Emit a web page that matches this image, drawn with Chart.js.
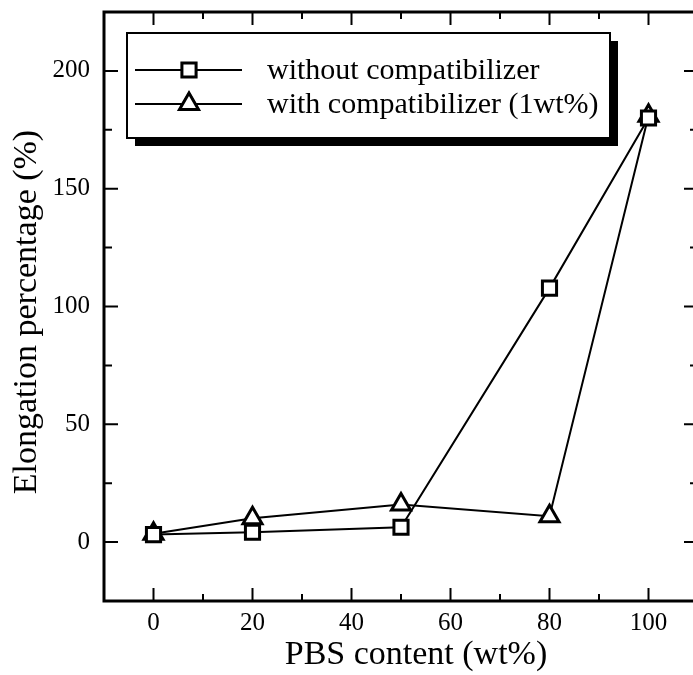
<!DOCTYPE html>
<html>
<head>
<meta charset="utf-8">
<script src="https://cdn.jsdelivr.net/npm/chart.js@4.4.0/dist/chart.umd.min.js"></script>
<style>
  html, body { margin: 0; padding: 0; background: #fff; overflow: hidden; }
</style>
</head>
<body>
<canvas id="elongChart" width="700" height="675"></canvas>
<script>
// data
var pbsContent = [0, 20, 50, 80, 100];
var withoutCompat = [3.2, 4.2, 6.3, 107.8, 180];
var withCompat = [3.5, 10.1, 16.0, 11.0, 181];
var seriesLabels = ['without compatibilizer', 'with compatibilizer (1wt%)'];
var xTitle = 'PBS content (wt%)';
var yTitle = 'Elongation percentage (%)';

var xMajor = [0, 20, 40, 60, 80, 100];
var xMinor = [10, 30, 50, 70, 90];
var yMajor = [0, 50, 100, 150, 200];
var yMinor = [25, 75, 125, 175];

var FONT = "'Liberation Serif', 'Times New Roman', serif";

function toPoints(xs, ys) {
    return xs.map(function (x, i) { return {x: x, y: ys[i]}; });
}

// frame, inward ticks on all four sides, axis titles and the boxed legend with a drop shadow
var framePlugin = {
    id: 'frame',
    afterDraw: function (chart) {
        var ctx = chart.ctx;
        var a = chart.chartArea;
        var xs = chart.scales.x, ys = chart.scales.y;
        ctx.save();
        ctx.strokeStyle = '#000';
        ctx.lineWidth = 2;
        ctx.beginPath();
        function tickX(v, len) {
            var p = xs.getPixelForValue(v);
            ctx.moveTo(p, a.bottom); ctx.lineTo(p, a.bottom - len);
            ctx.moveTo(p, a.top); ctx.lineTo(p, a.top + len);
        }
        function tickY(v, len) {
            var p = ys.getPixelForValue(v);
            ctx.moveTo(a.left, p); ctx.lineTo(a.left + len, p);
            ctx.moveTo(a.right, p); ctx.lineTo(a.right - len, p);
        }
        xMajor.forEach(function (v) { tickX(v, 13); });
        xMinor.forEach(function (v) { tickX(v, 7); });
        yMajor.forEach(function (v) { tickY(v, 14); });
        yMinor.forEach(function (v) { tickY(v, 8); });
        ctx.stroke();

        ctx.lineWidth = 3;
        ctx.strokeRect(a.left, a.top, a.right - a.left, a.bottom - a.top);

        // axis titles (the original sits slightly off the plot centre)
        ctx.fillStyle = '#000';
        ctx.font = '34px ' + FONT;
        ctx.textAlign = 'center';
        ctx.textBaseline = 'alphabetic';
        ctx.fillText(xTitle, 416, 664);
        ctx.save();
        ctx.translate(36, 312);
        ctx.rotate(-Math.PI / 2);
        ctx.fillText(yTitle, 0, 0);
        ctx.restore();

        // legend
        var bx = 127, by = 33, bw = 483, bh = 105;
        ctx.fillStyle = '#000';
        ctx.fillRect(bx + 8, by + 8, bw, bh);
        ctx.fillStyle = '#fff';
        ctx.fillRect(bx, by, bw, bh);
        ctx.lineWidth = 2;
        ctx.strokeRect(bx, by, bw, bh);

        var rows = [70, 104];
        chart.data.datasets.forEach(function (ds, i) {
            var y = rows[i];
            ctx.lineWidth = 2;
            ctx.beginPath();
            ctx.moveTo(135, y); ctx.lineTo(242, y);
            ctx.stroke();
            Chart.helpers.drawPoint(ctx, {
                pointStyle: ds.pointStyle,
                radius: ds.pointRadius,
                rotation: 0,
                borderWidth: ds.pointBorderWidth
            }, 189, y);
            ctx.lineWidth = ds.pointBorderWidth;
            ctx.fillStyle = '#fff';
            ctx.strokeStyle = '#000';
            ctx.fill();
            ctx.stroke();
            ctx.fillStyle = '#000';
            ctx.font = '30px ' + FONT;
            ctx.textAlign = 'left';
            ctx.textBaseline = 'middle';
            ctx.fillText(ds.label, 267, y + 1);
        });
        ctx.restore();
    }
};

var ctx = document.getElementById('elongChart').getContext('2d');
var myChart = new Chart(ctx, {
    type: 'line',
    data: {
        datasets: [
            {
                label: seriesLabels[0],
                data: toPoints(pbsContent, withoutCompat),
                borderColor: '#000',
                borderWidth: 2,
                pointStyle: 'rect',
                pointRadius: 10,
                pointBorderWidth: 3,
                pointBackgroundColor: '#fff',
                pointBorderColor: '#000',
                tension: 0
            },
            {
                label: seriesLabels[1],
                data: toPoints(pbsContent, withCompat),
                borderColor: '#000',
                borderWidth: 2,
                pointStyle: 'triangle',
                pointRadius: 11,
                pointBorderWidth: 3,
                pointBackgroundColor: '#fff',
                pointBorderColor: '#000',
                tension: 0
            }
        ]
    },
    options: {
        responsive: false,
        animation: false,
        layout: { autoPadding: false, padding: { top: 12, right: 2, left: 0, bottom: 0 } },
        plugins: {
            legend: { display: false },
            tooltip: { enabled: false }
        },
        scales: {
            x: {
                type: 'linear',
                min: -10,
                max: 110,
                grid: { display: false, drawTicks: false },
                border: { display: false },
                afterBuildTicks: function (s) { s.ticks = xMajor.map(function (v) { return {value: v}; }); },
                afterFit: function (s) { s.height = 74; s.paddingLeft = 0; s.paddingRight = 0; },
                ticks: {
                    color: '#000',
                    padding: 7,
                    maxRotation: 0,
                    font: { family: FONT, size: 25 }
                }
            },
            y: {
                min: -25,
                max: 225,
                grid: { display: false, drawTicks: false },
                border: { display: false },
                afterBuildTicks: function (s) { s.ticks = yMajor.map(function (v) { return {value: v}; }); },
                afterFit: function (s) { s.width = 104; s.paddingTop = 0; s.paddingBottom = 0; },
                ticks: {
                    color: '#000',
                    padding: 14,
                    font: { family: FONT, size: 25 }
                }
            }
        }
    },
    plugins: [framePlugin]
});
</script>
</body>
</html>
